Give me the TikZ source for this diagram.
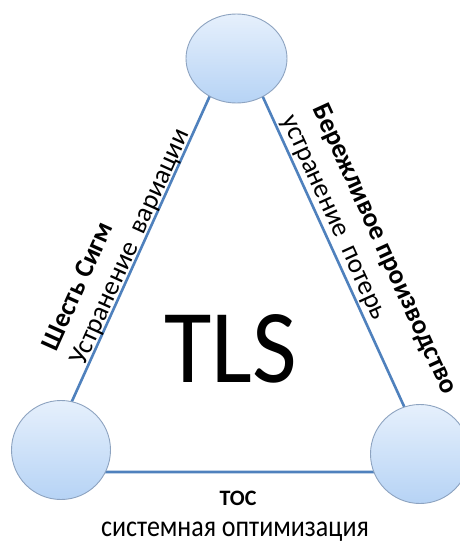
\documentclass[tikz,border=0pt]{standalone}
\usepackage{fontspec}
\setmainfont{Carlito}
\usetikzlibrary{shapes.geometric}
\definecolor{edgeblue}{HTML}{4F81BD}
\definecolor{ringgray}{HTML}{8DA3C0}
\definecolor{fillhi}{HTML}{E6F0FC}
\definecolor{filllo}{HTML}{B6D3F5}
\tikzset{
  edge/.style={draw=edgeblue, line width=2.6pt},
  ballbase/.style={draw=ringgray, line width=0.9pt, inner sep=0pt,
    top color=fillhi, bottom color=filllo},
  ball/.style={ballbase, circle, minimum size=99pt},
  topball/.style={ballbase, ellipse, minimum width=101pt, minimum height=89pt},
  sidelbl/.style={font=\fontsize{27}{31}\selectfont, inner sep=0pt},
  sidebold/.style={font=\bfseries\fontsize{27}{31}\selectfont, inner sep=0pt},
}
\begin{document}
\begin{tikzpicture}[x=1pt,y=-1pt]
\useasboundingbox (0,0) rectangle (459,543);
\fill[white] (0,0) rectangle (459,543);
% triangle corners
\coordinate (cT) at (236,38);
\coordinate (cL) at (40,472);
\coordinate (cR) at (434,472);
\draw[edge] (cL) -- (cT) -- (cR) -- cycle;
% circles
\node[topball] (top) at (236.5,58.5) {};
\node[ball] (left) at (61,450) {};
\node[ball] (right) at (420,454) {};
% center label
\node[font=\fontsize{97}{100}\selectfont, anchor=base, inner sep=0pt] (tls) at (231,382) {\scalebox{1}[1.08]{TLS}};
% left side labels
\node[sidelbl, rotate=65.7] (lvar) at (131,247.5) {Устранение\hspace{0.45em}вариации};
\node[sidebold, rotate=65.7] (lsix) at (77,286) {Шесть Сигм};
% right side labels
\node[sidelbl, rotate=-65.5] (rwaste) at (331.5,218.5) {устранение\hspace{0.45em}потерь};
\node[sidebold, rotate=-65.5] (rlean) at (384,249.5) {Бережливое производство};
% bottom labels
\node[font=\bfseries\fontsize{22}{26}\selectfont, anchor=base, inner sep=0pt] (toc) at (238,505) {ТОС};
\node[font=\fontsize{26}{30}\selectfont, anchor=base, inner sep=0pt] (sysopt) at (235,536) {\scalebox{1}[1.15]{системная оптимизация}};
\end{tikzpicture}
\end{document}
